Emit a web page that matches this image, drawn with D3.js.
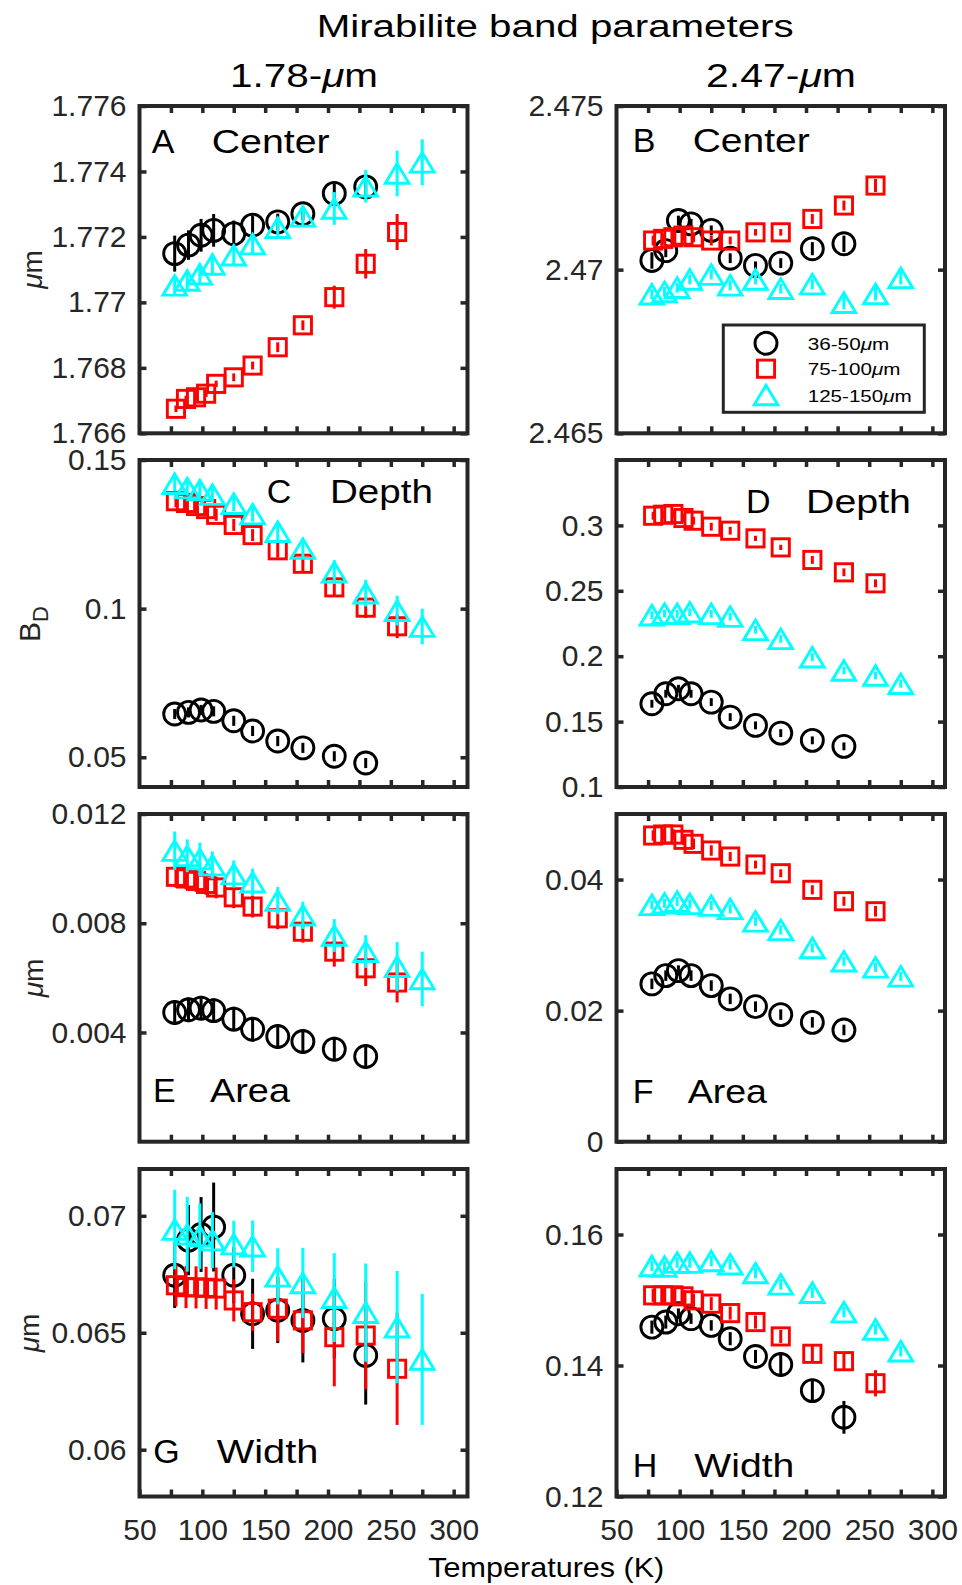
<!DOCTYPE html>
<html><head><meta charset="utf-8">
<script src="https://cdn.jsdelivr.net/npm/d3@7"></script>
<style>
body{margin:0;background:#fff}
text{font-family:"Liberation Sans",Arial,Helvetica,sans-serif}
</style>
</head><body>
<svg id="chart" width="962" height="1585"></svg>
<script>
// ---------------- data ----------------
const tempCircle   = [78, 89, 99, 109, 125, 140, 160, 180, 205, 230];
const tempSquare   = [79, 87, 95, 103, 111, 125, 140, 160, 180, 205, 230, 255];
const tempTriangle = [78, 88, 98, 108, 125, 140, 160, 180, 205, 230, 255, 275];
const seriesLabels = ["36-50", "75-100", "125-150"];
const xTicks = [75, 100, 125, 150, 175, 200, 225, 250, 275, 300];
const xTickLabels = [50, 100, 150, 200, 250, 300];

// A: 1.78 center
const aCirc    = [1.77149, 1.77175, 1.77205, 1.7722, 1.7721, 1.77236, 1.77246, 1.77271, 1.77333, 1.77353];
const aCircErr = [0.00055, 0.00045, 0.0005, 0.0005, 0.0004, 0.0003, 0.00025, 0.0002, 0.0003, 0.0003];
const aSq      = [1.76675, 1.76705, 1.7671, 1.76721, 1.76751, 1.76771, 1.76807, 1.76863, 1.7693, 1.77016, 1.77118, 1.77215];
const aSqErr   = [0.0001, 0.0001, 0.0001, 0.0001, 0.0001, 0.00012, 0.00012, 0.00015, 0.00015, 0.00035, 0.00045, 0.00055];
const aTri     = [1.77052, 1.77067, 1.77086, 1.77116, 1.77144, 1.77178, 1.77228, 1.77263, 1.77287, 1.77355, 1.77394, 1.77428];
const aTriErr  = [0.0003, 0.0003, 0.0003, 0.0003, 0.0003, 0.0003, 0.0003, 0.0003, 0.0005, 0.0005, 0.0007, 0.0007];
const aTicks = [1.766, 1.768, 1.77, 1.772, 1.774, 1.776];
const aTickLabels = ["1.766", "1.768", "1.77", "1.772", "1.774", "1.776"];

// B: 2.47 center
const bCirc    = [2.47028, 2.47058, 2.4715, 2.4714, 2.4712, 2.47035, 2.47013, 2.4702, 2.47064, 2.47079];
const bCircErr = [0.00025, 0.0002, 0.00015, 0.00015, 0.00015, 0.00015, 0.00012, 0.00015, 0.0002, 0.00025];
const bSq      = [2.47089, 2.47094, 2.47099, 2.47104, 2.47099, 2.47089, 2.47089, 2.47114, 2.47114, 2.47155, 2.47196, 2.47257];
const bSqErr   = [0.00015, 0.00015, 0.00015, 0.00015, 0.00015, 0.00015, 0.00012, 0.0001, 0.0001, 0.00015, 0.00015, 0.0002];
const bTri     = [2.46925, 2.46932, 2.46945, 2.4697, 2.46985, 2.46952, 2.4697, 2.46942, 2.46956, 2.46899, 2.46926, 2.46975];
const bTriErr  = [0.00015, 0.00015, 0.00015, 0.00015, 0.00015, 0.00015, 0.00015, 0.00015, 0.00015, 0.0002, 0.0002, 0.0002];
const bTicks = [2.465, 2.47, 2.475];
const bTickLabels = ["2.465", "2.47", "2.475"];

// C: 1.78 depth
const cCirc    = [0.06455, 0.0651, 0.06592, 0.06544, 0.06227, 0.05886, 0.05546, 0.05317, 0.05034, 0.04806];
const cCircErr = [0.0017, 0.0017, 0.0017, 0.0017, 0.0017, 0.0017, 0.0017, 0.0017, 0.0017, 0.0017];
const cSq      = [0.13613, 0.13555, 0.13453, 0.1335, 0.13156, 0.12815, 0.12474, 0.11963, 0.1151, 0.10716, 0.10034, 0.09407];
const cSqErr   = [0.002, 0.002, 0.002, 0.002, 0.002, 0.002, 0.002, 0.0025, 0.0025, 0.003, 0.0035, 0.004];
const cTri     = [0.14202, 0.14056, 0.13988, 0.13838, 0.13531, 0.1318, 0.1259, 0.12021, 0.11227, 0.10521, 0.09932, 0.09397];
const cTriErr  = [0.0025, 0.0025, 0.0025, 0.0025, 0.0025, 0.0025, 0.003, 0.003, 0.004, 0.0045, 0.005, 0.006];
const cTicks = [0.05, 0.1, 0.15];
const cTickLabels = ["0.05", "0.1", "0.15"];

// D: 2.47 depth
const dCirc    = [0.16366, 0.1713, 0.17511, 0.1713, 0.16489, 0.15344, 0.1471, 0.14122, 0.13565, 0.13107];
const dCircErr = [0.003, 0.003, 0.003, 0.003, 0.003, 0.003, 0.003, 0.003, 0.003, 0.003];
const dSq      = [0.3074, 0.30817, 0.3087, 0.30565, 0.30359, 0.299, 0.29595, 0.29008, 0.2832, 0.27359, 0.26412, 0.25573];
const dSqErr   = [0.003, 0.003, 0.003, 0.003, 0.003, 0.003, 0.003, 0.002, 0.002, 0.003, 0.003, 0.003];
const dTri     = [0.23137, 0.2326, 0.23237, 0.23359, 0.23237, 0.2303, 0.22015, 0.21328, 0.19924, 0.18908, 0.18527, 0.17893];
const dTriErr  = [0.003, 0.003, 0.003, 0.003, 0.003, 0.003, 0.003, 0.003, 0.003, 0.003, 0.003, 0.003];
const dTicks = [0.1, 0.15, 0.2, 0.25, 0.3];
const dTickLabels = ["0.1", "0.15", "0.2", "0.25", "0.3"];

// E: 1.78 area
const eCirc    = [0.00473, 0.00483, 0.00489, 0.0048, 0.00449, 0.00412, 0.00385, 0.00367, 0.00339, 0.00312];
const eCircErr = [0.00045, 0.00045, 0.00045, 0.00045, 0.00045, 0.00045, 0.00045, 0.00045, 0.00045, 0.00045];
const eSq      = [0.0097, 0.00964, 0.00955, 0.00944, 0.00931, 0.00895, 0.00861, 0.00818, 0.00769, 0.00696, 0.00635, 0.00583];
const eSqErr   = [0.0004, 0.0004, 0.0004, 0.0004, 0.0004, 0.0004, 0.0004, 0.0004, 0.0004, 0.00055, 0.00065, 0.00073];
const eTri     = [0.01066, 0.01047, 0.01035, 0.01013, 0.0098, 0.0095, 0.00883, 0.00829, 0.00755, 0.00696, 0.00641, 0.00596];
const eTriErr  = [0.0007, 0.0006, 0.0006, 0.0005, 0.0005, 0.0005, 0.0005, 0.0005, 0.0006, 0.0006, 0.0009, 0.001];
const eTicks = [0.004, 0.008, 0.012];
const eTickLabels = ["0.004", "0.008", "0.012"];

// F: 2.47 area
const fCirc    = [0.02408, 0.02534, 0.02611, 0.02534, 0.02382, 0.02179, 0.02061, 0.01939, 0.01821, 0.01705];
const fCircErr = [0.0008, 0.0008, 0.0008, 0.0008, 0.0008, 0.0008, 0.0008, 0.0008, 0.0008, 0.0008];
const fSq      = [0.04672, 0.04687, 0.04687, 0.04606, 0.04545, 0.04443, 0.04351, 0.04229, 0.04096, 0.03843, 0.03669, 0.03516];
const fSqErr   = [0.0008, 0.0008, 0.0008, 0.0008, 0.0008, 0.0008, 0.0007, 0.0006, 0.0006, 0.0007, 0.0007, 0.0008];
const fTri     = [0.03614, 0.03638, 0.03664, 0.03629, 0.03603, 0.03553, 0.03363, 0.03232, 0.02957, 0.02753, 0.02661, 0.02524];
const fTriErr  = [0.0007, 0.0007, 0.0007, 0.0007, 0.0007, 0.0007, 0.0007, 0.0007, 0.0007, 0.0007, 0.0007, 0.0007];
const fTicks = [0, 0.02, 0.04];
const fTickLabels = ["0", "0.02", "0.04"];

// G: 1.78 width
const gCirc    = [0.06746, 0.06896, 0.0692, 0.06952, 0.06746, 0.06581, 0.06596, 0.06553, 0.0656, 0.06403];
const gCircErr = [0.0014, 0.0015, 0.0016, 0.0019, 0.0012, 0.0015, 0.0014, 0.0018, 0.0017, 0.0021];
const gSq      = [0.06703, 0.06695, 0.06694, 0.06692, 0.06689, 0.06638, 0.06588, 0.06603, 0.06553, 0.06481, 0.06488, 0.06346];
const gSqErr   = [0.0009, 0.0009, 0.0009, 0.0009, 0.0009, 0.0009, 0.0008, 0.0014, 0.0014, 0.0021, 0.0023, 0.0024];
const gTri     = [0.06941, 0.06921, 0.06913, 0.06896, 0.06879, 0.0687, 0.06741, 0.06713, 0.0665, 0.06586, 0.06524, 0.06386];
const gTriErr  = [0.0017, 0.0016, 0.0014, 0.0012, 0.001, 0.0011, 0.0012, 0.0015, 0.0019, 0.0021, 0.0024, 0.0028];
const gTicks = [0.06, 0.065, 0.07];
const gTickLabels = ["0.06", "0.065", "0.07"];

// H: 2.47 width
const hCirc    = [0.14586, 0.14663, 0.14791, 0.14715, 0.14612, 0.14409, 0.14138, 0.14015, 0.13617, 0.13209];
const hCircErr = [0.001, 0.001, 0.0008, 0.0008, 0.0008, 0.001, 0.001, 0.0018, 0.0018, 0.0025];
const hSq      = [0.15071, 0.15071, 0.15071, 0.15056, 0.14995, 0.14944, 0.148, 0.14663, 0.14444, 0.14179, 0.14066, 0.13729];
const hSqErr   = [0.001, 0.001, 0.001, 0.001, 0.001, 0.001, 0.001, 0.001, 0.001, 0.0012, 0.0012, 0.002];
const hTri     = [0.1552, 0.1551, 0.15572, 0.15572, 0.15596, 0.15546, 0.15412, 0.15239, 0.15112, 0.14816, 0.14551, 0.14219];
const hTriErr  = [0.0008, 0.0008, 0.0008, 0.0008, 0.0008, 0.0008, 0.0008, 0.0008, 0.0008, 0.0008, 0.0008, 0.0008];
const hTicks = [0.12, 0.14, 0.16];
const hTickLabels = ["0.12", "0.14", "0.16"];

// ---------------- layout ----------------
const svg = d3.select("#chart");
const AX = "#262626";
const colors = ["#000000", "#ff0000", "#00ffff"];
const shapes = ["circle", "square", "triangle"];
const cols = [
  {x0: 139.5, x1: 467.5, dom: [50, 311]},
  {x0: 616.5, x1: 945, dom: [50, 310]}
];
const rows = [
  {y0: 106, y1: 433.3},
  {y0: 460, y1: 787},
  {y0: 814, y1: 1141.7},
  {y0: 1169, y1: 1496.5}
];

const panels = [
  {letter: "A", name: "Center", col: 0, row: 0, dom: [1.766, 1.776], ticks: aTicks, labels: aTickLabels,
   series: [[tempCircle, aCirc, aCircErr], [tempSquare, aSq, aSqErr], [tempTriangle, aTri, aTriErr]],
   lx: 151.7, nx: 211.7, ny: 152.7, nw: 118},
  {letter: "B", name: "Center", col: 1, row: 0, dom: [2.465, 2.475], ticks: bTicks, labels: bTickLabels,
   series: [[tempCircle, bCirc, bCircErr], [tempSquare, bSq, bSqErr], [tempTriangle, bTri, bTriErr]],
   lx: 632.7, nx: 692.7, ny: 152, nw: 117},
  {letter: "C", name: "Depth", col: 0, row: 1, dom: [0.04, 0.15], ticks: cTicks, labels: cTickLabels,
   series: [[tempCircle, cCirc, cCircErr], [tempSquare, cSq, cSqErr], [tempTriangle, cTri, cTriErr]],
   lx: 266.7, nx: 330, ny: 503.3, nw: 103},
  {letter: "D", name: "Depth", col: 1, row: 1, dom: [0.1, 0.35], ticks: dTicks, labels: dTickLabels,
   series: [[tempCircle, dCirc, dCircErr], [tempSquare, dSq, dSqErr], [tempTriangle, dTri, dTriErr]],
   lx: 746, nx: 806, ny: 512.7, nw: 105},
  {letter: "E", name: "Area", col: 0, row: 2, dom: [0, 0.012], ticks: eTicks, labels: eTickLabels,
   series: [[tempCircle, eCirc, eCircErr], [tempSquare, eSq, eSqErr], [tempTriangle, eTri, eTriErr]],
   lx: 153, nx: 210, ny: 1101.7, nw: 80},
  {letter: "F", name: "Area", col: 1, row: 2, dom: [0, 0.05], ticks: fTicks, labels: fTickLabels,
   series: [[tempCircle, fCirc, fCircErr], [tempSquare, fSq, fSqErr], [tempTriangle, fTri, fTriErr]],
   lx: 632.7, nx: 687.7, ny: 1103.3, nw: 79.3},
  {letter: "G", name: "Width", col: 0, row: 3, dom: [0.058, 0.072], ticks: gTicks, labels: gTickLabels,
   series: [[tempCircle, gCirc, gCircErr], [tempSquare, gSq, gSqErr], [tempTriangle, gTri, gTriErr]],
   lx: 153.3, nx: 216.7, ny: 1463, nw: 101.6},
  {letter: "H", name: "Width", col: 1, row: 3, dom: [0.12, 0.17], ticks: hTicks, labels: hTickLabels,
   series: [[tempCircle, hCirc, hCircErr], [tempSquare, hSq, hSqErr], [tempTriangle, hTri, hTriErr]],
   lx: 632.7, nx: 694.3, ny: 1477, nw: 100}
];

function drawMarker(g, shape, color, cx, cy) {
  const sw = 2.9;
  if (shape === "circle") {
    g.append("circle").attr("cx", cx).attr("cy", cy).attr("r", 11)
      .attr("fill", "none").attr("stroke", color).attr("stroke-width", sw);
  } else if (shape === "square") {
    g.append("rect").attr("x", cx - 8.6).attr("y", cy - 8.6).attr("width", 17.2).attr("height", 17.2)
      .attr("fill", "none").attr("stroke", color).attr("stroke-width", sw);
  } else {
    const w = 11.8, h = 9.8;
    g.append("path").attr("d", `M${cx},${cy - h}L${cx + w},${cy + h}L${cx - w},${cy + h}Z`)
      .attr("fill", "none").attr("stroke", color).attr("stroke-width", sw).attr("stroke-linejoin", "miter");
  }
}

panels.forEach(p => {
  const c = cols[p.col], r = rows[p.row];
  const x = d3.scaleLinear().domain(c.dom).range([c.x0, c.x1]);
  const y = d3.scaleLinear().domain(p.dom).range([r.y1, r.y0]);
  const g = svg.append("g");

  // axes box
  g.append("rect").attr("x", c.x0).attr("y", r.y0).attr("width", c.x1 - c.x0).attr("height", r.y1 - r.y0)
    .attr("fill", "none").attr("stroke", AX).attr("stroke-width", 4);

  const bottomRow = p.row === 3;
  const axB = d3.axisBottom(x).tickValues(bottomRow ? xTicks.concat([50]) : xTicks).tickSize(-7).tickSizeOuter(0).tickPadding(22)
    .tickFormat(d => (bottomRow && xTickLabels.includes(d)) ? String(d) : "");
  const axT = d3.axisTop(x).tickValues(xTicks).tickSize(-7).tickSizeOuter(0).tickFormat("");
  const axL = d3.axisLeft(y).tickValues(p.ticks).tickSize(-7).tickSizeOuter(0).tickPadding(13)
    .tickFormat((d, i) => p.labels[i]);
  const axR = d3.axisRight(y).tickValues(p.ticks).tickSize(-7).tickSizeOuter(0).tickFormat("");

  const axes = [
    [axB, `translate(0,${r.y1})`], [axT, `translate(0,${r.y0})`],
    [axL, `translate(${c.x0},0)`], [axR, `translate(${c.x1},0)`]
  ];
  axes.forEach(([ax, tr]) => {
    const ag = g.append("g").attr("transform", tr).call(ax);
    ag.select(".domain").remove();
    ag.selectAll("line").attr("stroke", AX).attr("stroke-width", 3.5);
    ag.selectAll("text").attr("fill", AX).attr("font-size", 30)
      .attr("font-family", "'Liberation Sans', Arial, Helvetica, sans-serif");
  });

  // data: error bars + markers, series in order black, red, cyan
  p.series.forEach((s, si) => {
    const [temps, vals, errs] = s;
    const sg = g.append("g");
    vals.forEach((v, i) => {
      sg.append("line").attr("x1", x(temps[i])).attr("x2", x(temps[i]))
        .attr("y1", y(v - errs[i])).attr("y2", y(v + errs[i]))
        .attr("stroke", colors[si]).attr("stroke-width", 3);
      drawMarker(sg, shapes[si], colors[si], x(temps[i]), y(v));
    });
  });

  // panel label
  g.append("text").attr("x", p.lx).attr("y", p.ny).attr("font-size", 34).attr("fill", "#000").text(p.letter);
  g.append("text").attr("x", p.nx).attr("y", p.ny).attr("font-size", 34).attr("fill", "#000")
    .attr("textLength", p.nw).attr("lengthAdjust", "spacingAndGlyphs").text(p.name);
});

// y-axis labels (left column)
function muLabel(cy, bx) {
  const t = svg.append("text").attr("transform", `translate(${bx},${cy}) rotate(-90)`)
    .attr("text-anchor", "middle").attr("font-size", 28).attr("fill", AX);
  t.append("tspan").attr("font-style", "italic").text("μ");
  t.append("tspan").text("m");
}
muLabel(269.5, 41.5);
muLabel(978, 43);
muLabel(1333, 38.5);
{
  const t = svg.append("text").attr("transform", `translate(40,624) rotate(-90)`)
    .attr("text-anchor", "middle").attr("font-size", 30).attr("fill", AX);
  t.append("tspan").text("B");
  t.append("tspan").attr("font-size", 22).attr("dy", 8).text("D");
}

// titles
svg.append("text").attr("x", 316.7).attr("y", 37.3).attr("font-size", 31).attr("fill", "#000")
  .attr("textLength", 477).attr("lengthAdjust", "spacingAndGlyphs").text("Mirabilite band parameters");
function subTitle(x0, w, num) {
  const t = svg.append("text").attr("x", x0).attr("y", 87.3).attr("font-size", 33).attr("fill", "#000")
    .attr("textLength", w).attr("lengthAdjust", "spacingAndGlyphs");
  t.append("tspan").text(num + "-");
  t.append("tspan").attr("font-style", "italic").text("μ");
  t.append("tspan").text("m");
}
subTitle(230, 148, "1.78");
subTitle(706, 150, "2.47");

svg.append("text").attr("x", 428.3).attr("y", 1577).attr("font-size", 28).attr("fill", "#000")
  .attr("textLength", 236).attr("lengthAdjust", "spacingAndGlyphs").text("Temperatures (K)");

// legend
{
  const lg = svg.append("g");
  lg.append("rect").attr("x", 723.3).attr("y", 325).attr("width", 201).attr("height", 87.3)
    .attr("fill", "#fff").attr("stroke", AX).attr("stroke-width", 3);
  const rowsY = [343.3, 368.7, 395];
  const widths = [81.6, 92.7, 104];
  seriesLabels.forEach((lab, i) => {
    drawMarker(lg, shapes[i], colors[i], 766, rowsY[i]);
    const t = lg.append("text").attr("x", 807.7).attr("y", rowsY[i] + 6.5).attr("font-size", 17).attr("fill", "#000")
      .attr("textLength", widths[i]).attr("lengthAdjust", "spacingAndGlyphs");
    t.append("tspan").text(lab);
    t.append("tspan").attr("font-style", "italic").text("μ");
    t.append("tspan").text("m");
  });
}
</script>
</body></html>
